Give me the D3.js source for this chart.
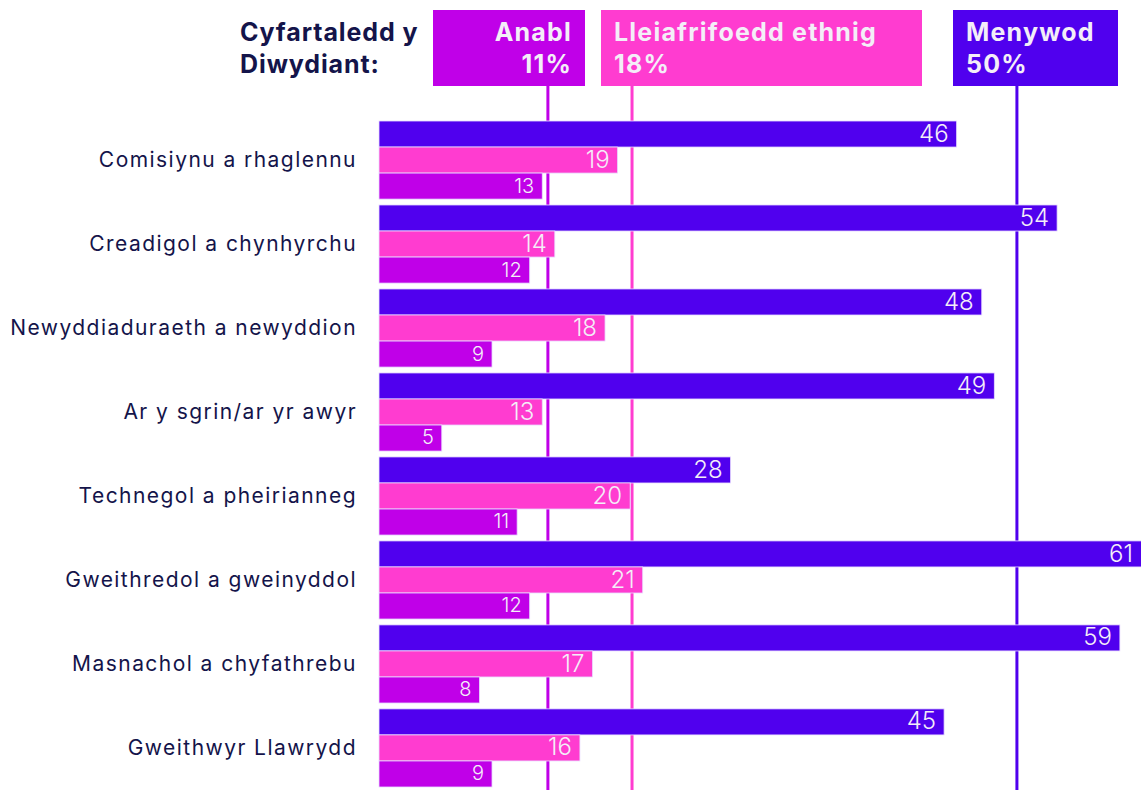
<!DOCTYPE html>
<html>
<head>
<meta charset="utf-8">
<script src="https://cdn.jsdelivr.net/npm/d3@7"></script>
<style>
  body { margin: 0; background: #fff; }
  svg { display: block; font-family: "Inter", "Lato", sans-serif; }
</style>
</head>
<body>
<div id="chart"></div>
<script>
// data
const categories = ["Comisiynu a rhaglennu", "Creadigol a chynhyrchu", "Newyddiaduraeth a newyddion",
  "Ar y sgrin/ar yr awyr", "Technegol a pheirianneg", "Gweithredol a gweinyddol",
  "Masnachol a chyfathrebu", "Gweithwyr Llawrydd"];
const menywod = [46, 54, 48, 49, 28, 61, 59, 45];
const lleiafrifoedd = [19, 14, 18, 13, 20, 21, 17, 16];
const anabl = [13, 12, 9, 5, 11, 12, 8, 9];

// industry averages (label) and where the line sits on the bar scale (as drawn)
const avgNames = ["Anabl", "Lleiafrifoedd ethnig", "Menywod"];
const avgLabels = ["11%", "18%", "50%"];
const avgLinePos = [13.45, 20.15, 50.8];

const width = 1141, height = 790;
const colors = { menywod: "#5000EE", lleiafrifoedd: "#FF3CD0", anabl: "#C000E8" };
const navy = "#14144a";

const svg = d3.select("#chart").append("svg")
  .attr("width", width).attr("height", height);

const x = d3.scaleLinear().domain([0, 61]).range([379, 1145]);
const y = d3.scaleBand().domain(categories).range([121, 787]).paddingInner(0.07).paddingOuter(0).align(0);
const keys = ["menywod", "lleiafrifoedd", "anabl"];
const ySub = d3.scaleBand().domain(keys).range([0, y.bandwidth()]);

const series = { menywod: menywod, lleiafrifoedd: lleiafrifoedd, anabl: anabl };
const lineColors = [colors.anabl, colors.lleiafrifoedd, colors.menywod];

// reference lines (behind bars)
svg.selectAll("line.avg")
  .data(avgLinePos)
  .enter().append("line")
  .attr("class", "avg")
  .attr("x1", d => x(d)).attr("x2", d => x(d))
  .attr("y1", 86).attr("y2", height)
  .attr("stroke", (d, i) => lineColors[i])
  .attr("stroke-width", 3);

// header boxes
const boxes = [
  { x0: 433, x1: 585, align: "end" },
  { x0: 601, x1: 922, align: "start" },
  { x0: 953, x1: 1118, align: "start" }
];
boxes.forEach(function(b, i) {
  svg.append("rect")
    .attr("x", b.x0).attr("y", 10)
    .attr("width", b.x1 - b.x0).attr("height", 76)
    .attr("fill", lineColors[i]);
  const tx = b.align === "end" ? b.x1 - 13 : b.x0 + 13;
  const t = svg.append("text")
    .attr("x", tx).attr("y", 41)
    .attr("text-anchor", b.align)
    .attr("fill", "#f4eef8")
    .attr("font-weight", 700)
    .attr("font-size", 25)
    .attr("letter-spacing", 1.2);
  t.append("tspan").attr("x", tx).attr("dy", 0).text(avgNames[i]);
  t.append("tspan").attr("x", tx).attr("dy", 32).text(avgLabels[i]);
});

// title
const title = svg.append("text")
  .attr("x", 240).attr("y", 41)
  .attr("fill", navy).attr("font-weight", 700).attr("font-size", 25)
  .attr("letter-spacing", 0.9);
title.append("tspan").attr("x", 240).text("Cyfartaledd y");
title.append("tspan").attr("x", 240).attr("dy", 32).text("Diwydiant:");

// bars
const groups = svg.selectAll("g.cat")
  .data(categories)
  .enter().append("g")
  .attr("class", "cat")
  .attr("transform", d => `translate(0,${y(d)})`);

groups.selectAll("rect")
  .data((d, i) => keys.map(k => ({ key: k, value: series[k][i] })))
  .enter().append("rect")
  .attr("x", x(0))
  .attr("y", d => ySub(d.key))
  .attr("width", d => x(d.value) - x(0))
  .attr("height", ySub.bandwidth())
  .attr("fill", d => colors[d.key])
  .attr("stroke", "#e8dcff")
  .attr("stroke-width", 0.8);

groups.selectAll("text.val")
  .data((d, i) => keys.map(k => ({ key: k, value: series[k][i] })))
  .enter().append("text")
  .attr("class", "val")
  .attr("x", d => Math.min(x(d.value), width) - 8)
  .attr("y", d => ySub(d.key) + ySub.bandwidth() / 2 + 1)
  .attr("dominant-baseline", "middle")
  .attr("text-anchor", "end")
  .attr("fill", "#f4eef8")
  .attr("font-weight", 300)
  .attr("font-size", d => d.key === "anabl" ? 20 : 24)
  .text(d => d.value);

// category labels
groups.append("text")
  .attr("x", 357)
  .attr("y", ySub("lleiafrifoedd") + ySub.bandwidth() / 2 + 1)
  .attr("dominant-baseline", "middle")
  .attr("text-anchor", "end")
  .attr("fill", navy)
  .attr("font-size", 21)
  .attr("letter-spacing", 1.45)
  .text(d => d);
</script>
</body>
</html>
